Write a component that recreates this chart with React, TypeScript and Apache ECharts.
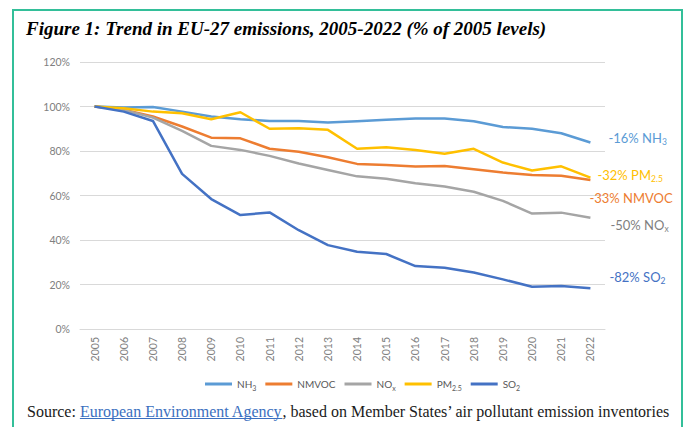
import React, { useEffect, useRef } from "react";
import * as echarts from "echarts";

const years = ["2005", "2006", "2007", "2008", "2009", "2010", "2011", "2012", "2013", "2014", "2015", "2016", "2017", "2018", "2019", "2020", "2021", "2022"];
const nh3 = [100, 99.6, 99.8, 97.7, 95.5, 94.3, 93.5, 93.5, 92.8, 93.4, 94.0, 94.6, 94.6, 93.4, 90.8, 90.0, 88.0, 83.8];
const nmvoc = [100, 98.5, 95.5, 91.0, 86.0, 85.7, 81.0, 79.7, 77.2, 74.2, 73.7, 73.0, 73.3, 71.8, 70.3, 69.2, 68.9, 67.0];
const nox = [100, 98.5, 95.0, 89.0, 82.3, 80.5, 77.8, 74.4, 71.5, 68.6, 67.5, 65.5, 64.0, 61.7, 57.6, 51.9, 52.3, 50.0];
const pm25 = [100, 99.2, 97.7, 97.0, 94.3, 97.4, 90.0, 90.2, 89.5, 81.0, 81.7, 80.5, 78.8, 81.0, 74.8, 71.2, 73.1, 68.0];
const so2 = [100, 97.7, 93.5, 69.7, 58.4, 51.2, 52.4, 44.4, 37.7, 34.7, 33.7, 28.3, 27.5, 25.4, 22.3, 19.0, 19.3, 18.3];

const seriesNames = ["NH3", "NMVOC", "NOx", "PM2.5", "SO2"];
const changes = ["-16%", "-33%", "-50%", "-32%", "-82%"];
const nameMain = ["NH", "NMVOC", "NO", "PM", "SO"];
const nameSub = ["3", "", "x", "2.5", "2"];

const TITLE = "Figure 1: Trend in EU-27 emissions, 2005-2022 (% of 2005 levels)";
const SRC_A = "Source: ";
const SRC_LINK = "European Environment Agency";
const SRC_B = ", based on Member States\u2019 air pollutant emission inventories";

const colors = ["#5b9bd5", "#ed7d31", "#a5a5a5", "#ffc000", "#4472c4"];
const labelColors = ["#5b9bd5", "#ed7d31", "#7f7f7f", "#ffc000", "#4472c4"];
const labelOffsets: [number, number][] = [[10, -5], [-9, 18], [12, 7], [-1, -3], [11, -11]];

function measure(text: string, font: string) {
  const c = document.createElement("canvas").getContext("2d");
  if (!c) return text.length * 7;
  c.font = font;
  return c.measureText(text).width;
}

export default function App() {
  const ref = useRef<HTMLDivElement>(null);
  useEffect(() => {
    if (!ref.current) return;
    const chart = echarts.init(ref.current, undefined, { renderer: "svg" });
    const data = [nh3, nmvoc, nox, pm25, so2];
    const labelFont = "Lato";
    const srcSize = 16;
    const srcFont = `${srcSize}px 'Liberation Serif'`;
    const srcX = 27;
    const linkX = srcX + measure(SRC_A, srcFont);
    const linkW = measure(SRC_LINK, srcFont);

    const series = seriesNames.map((n, i) => ({
      name: n,
      type: "line",
      data: data[i],
      showSymbol: false,
      symbol: "none",
      z: i === 4 ? 3 : 2,
      lineStyle: { color: colors[i], width: 2.5 },
      itemStyle: { color: colors[i] },
      endLabel: {
        show: true,
        offset: labelOffsets[i],
        formatter: nameSub[i]
          ? `{m|${changes[i]} ${nameMain[i]}}{s|${nameSub[i]}}`
          : `{m|${changes[i]} ${nameMain[i]}}`,
        rich: {
          m: { color: labelColors[i], fontSize: 13, fontFamily: labelFont, lineHeight: 17 },
          s: { color: labelColors[i], fontSize: 8.5, fontFamily: labelFont, lineHeight: 9, verticalAlign: "bottom" },
        },
      },
    }));

    chart.setOption({
      animation: false,
      backgroundColor: "#ffffff",
      grid: { left: 80, right: 81, top: 62, bottom: 98, containLabel: false },
      legend: {
        left: 200,
        top: 374,
        icon: "rect",
        itemWidth: 27,
        itemHeight: 3,
        itemGap: 9,
        data: seriesNames,
        formatter: (name: string) => {
          const i = seriesNames.indexOf(name);
          return nameSub[i] ? `{n|${nameMain[i]}}{s|${nameSub[i]}}` : `{n|${nameMain[i]}}`;
        },
        textStyle: {
          color: "#595959",
          fontSize: 10,
          fontFamily: labelFont,
          rich: {
            n: { color: "#595959", fontSize: 10, fontFamily: labelFont, lineHeight: 14 },
            s: { color: "#595959", fontSize: 7, fontFamily: labelFont, lineHeight: 8, verticalAlign: "bottom" },
          },
        },
      },
      xAxis: {
        type: "category",
        data: years,
        boundaryGap: true,
        axisLine: { lineStyle: { color: "#d9d9d9", width: 1 } },
        axisTick: { show: false },
        axisLabel: { rotate: 90, color: "#808080", fontSize: 10.5, fontFamily: labelFont, margin: 8 },
      },
      yAxis: {
        type: "value",
        min: 0,
        max: 120,
        interval: 20,
        axisLine: { show: false },
        axisTick: { show: false },
        axisLabel: { formatter: "{value}%", color: "#808080", fontSize: 10.5, fontFamily: labelFont, margin: 10 },
        splitLine: { lineStyle: { color: "#d9d9d9", width: 1 } },
      },
      series,
      graphic: [
        {
          type: "rect",
          shape: { x: 13, y: 10, width: 669, height: 460 },
          style: { fill: "none", stroke: "#33bf99", lineWidth: 2 },
          silent: true,
        },
        {
          type: "text",
          x: 26,
          y: 28,
          style: {
            text: TITLE,
            fill: "#000000",
            font: "italic bold 19px 'Liberation Serif'",
            verticalAlign: "middle",
            align: "left",
          },
        },
        {
          type: "text",
          x: srcX,
          y: 411,
          style: {
            text: `{a|${SRC_A}}{b|${SRC_LINK}}{a|${SRC_B}}`,
            verticalAlign: "middle",
            align: "left",
            rich: {
              a: { fill: "#1a1a1a", fontSize: srcSize, fontFamily: "Liberation Serif" },
              b: { fill: "#3b6fc0", fontSize: srcSize, fontFamily: "Liberation Serif" },
            },
          },
        },
        {
          type: "line",
          shape: { x1: linkX, y1: 418.5, x2: linkX + linkW, y2: 418.5 },
          style: { stroke: "#3b6fc0", lineWidth: 1 },
          silent: true,
        },
      ],
    });
    return () => chart.dispose();
  }, []);
  return (
    <div
      ref={ref}
      style={{ position: "fixed", left: 0, top: 0, width: 686, height: 427 }}
    />
  );
}
